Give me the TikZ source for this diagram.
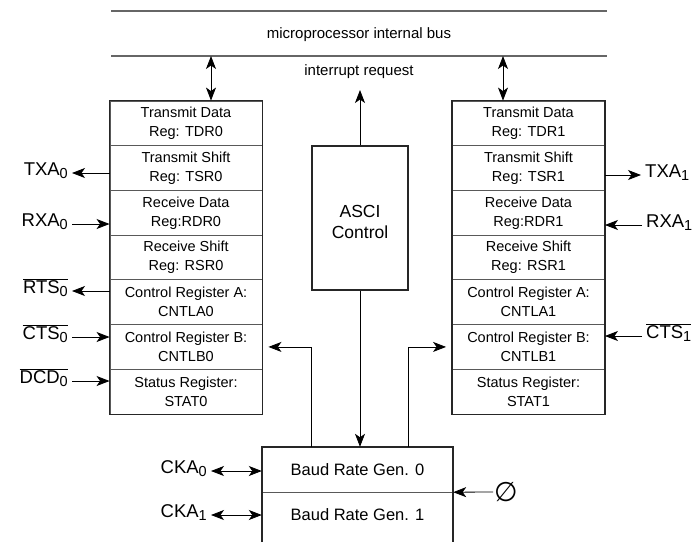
\documentclass[tikz,border=0pt]{standalone}
\usepackage{fontspec}
\setmainfont{Liberation Sans}
\newfontfamily\symfont{DejaVu Sans}
\usetikzlibrary{arrows.meta,calc}
\newcommand{\sigsub}[1]{\raisebox{-2.5pt}{\fontsize{14.5}{15}\selectfont #1}}
\begin{document}
\begin{tikzpicture}[x=1pt,y=-1pt,
  tip/.tip={Stealth[length=13pt,width=10pt,inset=3.5pt]},
  reg/.style={minimum width=152pt, minimum height=44.71pt, inner sep=0pt, align=center,
    font=\fontsize{14.5}{19}\selectfont, draw=black!65, line width=0.9pt},
  border/.style={draw=black!85, line width=1.6pt},
  conn/.style={draw=black, line width=0.8pt},
  busline/.style={draw=black!60, line width=1.3pt},
  sig/.style={font=\fontsize{18.5}{20}\selectfont, inner sep=4pt},
  plain/.style={inner sep=0pt, align=center}
]
\useasboundingbox (0,0) rectangle (694,542);

% bus
\coordinate (bus1a) at (111,11);
\coordinate (bus1b) at (607,11);
\coordinate (bus2a) at (111,56);
\coordinate (bus2b) at (607,56);
\draw[busline] (bus1a) -- (bus1b);
\draw[busline] (bus2a) -- (bus2b);
\node[plain, font=\fontsize{15}{17}\selectfont] (bustxt) at (359,35) {microprocessor internal bus};
\node[plain, font=\fontsize{15}{17}\selectfont] (irqtxt) at (359,72) {interrupt request};

% left register block
\node[reg] (a1) at (186,123.36) {Transmit Data\\Reg: TDR0};
\node[reg] (a2) at (186,168.07) {Transmit Shift\\Reg: TSR0};
\node[reg] (a3) at (186,212.79) {Receive Data\\Reg:RDR0};
\node[reg] (a4) at (186,257.50) {Receive Shift\\Reg: RSR0};
\node[reg] (a5) at (186,302.21) {Control Register A:\\CNTLA0};
\node[reg] (a6) at (186,346.93) {Control Register B:\\CNTLB0};
\node[reg] (a7) at (186,391.64) {Status Register:\\STAT0};
\draw[border] (a1.north west) rectangle (a7.south east);

% right register block
\node[reg] (c1) at (528.5,123.36) {Transmit Data\\Reg: TDR1};
\node[reg] (c2) at (528.5,168.07) {Transmit Shift\\Reg: TSR1};
\node[reg] (c3) at (528.5,212.79) {Receive Data\\Reg:RDR1};
\node[reg] (c4) at (528.5,257.50) {Receive Shift\\Reg: RSR1};
\node[reg] (c5) at (528.5,302.21) {Control Register A:\\CNTLA1};
\node[reg] (c6) at (528.5,346.93) {Control Register B:\\CNTLB1};
\node[reg] (c7) at (528.5,391.64) {Status Register:\\STAT1};
\draw[border] (c1.north west) rectangle (c7.south east);

% ASCI control
\node[border, minimum width=96pt, minimum height=144pt, inner sep=0pt] (asci) at (360,218) {};
\node[plain, font=\fontsize{17.5}{20.5}\selectfont] (ascitxt) at (360,222) {ASCI\\Control};

% Baud rate generators
\node[plain, minimum width=191pt, minimum height=45pt, font=\fontsize{16.5}{18}\selectfont] (b0) at (357.5,469.5) {Baud Rate Gen. 0};
\node[plain, minimum width=191pt, minimum height=46pt, font=\fontsize{16.5}{18}\selectfont] (b1) at (357.5,515) {Baud Rate Gen. 1};
\draw[draw=black!65, line width=0.9pt] (b0.south west) -- (b0.south east);
\draw[border] (b0.north west |- 0,542) -- (b0.north west) -- (b0.north east) -- (b0.north east |- 0,542);

% bus double arrows
\coordinate (bl) at (211,56);
\coordinate (br) at (503,56);
\draw[conn,tip-tip] (bl) -- (bl |- a1.north);
\draw[conn,tip-tip] (br) -- (br |- c1.north);

% interrupt request
\coordinate (irq) at (360,90);
\draw[conn,-tip] (asci.north) -- (irq);
\draw[conn,-tip] (asci.south) -- (asci.south |- b0.north);

% feedback from baud generators
\draw[conn,-tip] (b0.north -| asci.west) |- ($(a6.east)+(6,0)$);
\draw[conn,-tip] (b0.north -| asci.east) |- ($(c6.west)+(-6,0)$);

% left signals
\node[sig, anchor=mid east] (txa0) at (72,173) {TXA\sigsub{0}};
\node[sig, anchor=mid east] (rxa0) at (72,224) {RXA\sigsub{0}};
\node[sig, anchor=mid east] (rts0) at (72,291) {$\overline{\hbox{RTS\sigsub{0}}}$};
\node[sig, anchor=mid east] (cts0) at (72,337) {$\overline{\hbox{CTS\sigsub{0}}}$};
\node[sig, anchor=mid east] (dcd0) at (72,381) {$\overline{\hbox{DCD\sigsub{0}}}$};
\draw[conn,-tip] (a2.west |- txa0.mid east) -- (txa0.mid east);
\draw[conn,-tip] (rxa0.mid east) -- (a3.west |- rxa0.mid east);
\draw[conn,-tip] (a5.west |- rts0.mid east) -- (rts0.mid east);
\draw[conn,-tip] (cts0.mid east) -- (a6.west |- cts0.mid east);
\draw[conn,-tip] (dcd0.mid east) -- (a7.west |- dcd0.mid east);

% right signals
\node[sig, anchor=mid west] (txa1) at (641,175) {TXA\sigsub{1}};
\node[sig, anchor=mid west] (rxa1) at (642,225) {RXA\sigsub{1}};
\node[sig, anchor=mid west] (cts1) at (642,336) {$\overline{\hbox{CTS\sigsub{1}}}$};
\draw[conn,-tip] (c2.east |- txa1.mid west) -- (txa1.mid west);
\draw[conn,-tip] (rxa1.mid west) -- (c3.east |- rxa1.mid west);
\draw[conn,-tip] (cts1.mid west) -- (c6.east |- cts1.mid west);

% clock signals
\node[sig, anchor=mid east] (cka0) at (211,471) {CKA\sigsub{0}};
\node[sig, anchor=mid east] (cka1) at (211,515) {CKA\sigsub{1}};
\draw[conn,tip-tip] (cka0.mid east) -- (b0.west |- cka0.mid east);
\draw[conn,tip-tip] (cka1.mid east) -- (b1.west |- cka1.mid east);

% phi clock input
\node[inner sep=1pt, font=\symfont\fontsize{27}{27}\selectfont] (phi) at (506,492) {∅};
\draw[conn,-tip] (phi.west) -- (b0.south east);
\end{tikzpicture}
\end{document}
